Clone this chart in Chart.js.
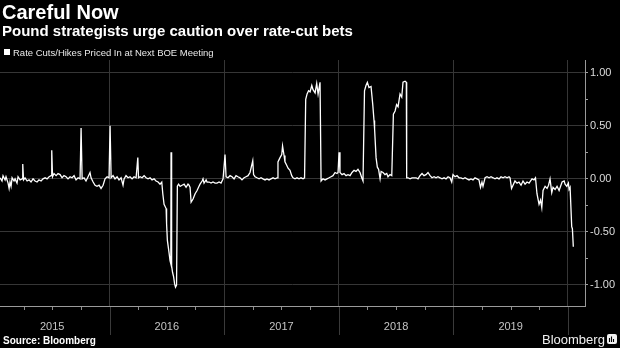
<!DOCTYPE html>
<html>
<head>
<meta charset="utf-8">
<script src="https://cdn.jsdelivr.net/npm/chart.js@4.4.1/dist/chart.umd.min.js"></script>
<style>
  html, body { margin: 0; padding: 0; background: #000; }
  #wrap { position: relative; width: 620px; height: 348px; overflow: hidden; background: #000;
          font-family: 'Liberation Sans', Arial, sans-serif; color: #fff; }
  #chart { position: absolute; left: 0; top: 0; }
  .t { position: absolute; white-space: nowrap; line-height: 1; }
  #title { left: 2px; top: 2px; font-size: 20px; font-weight: bold; }
  #sub { left: 2px; top: 23px; font-size: 15px; font-weight: bold; }
  #key { position: absolute; left: 4px; top: 49px; width: 6px; height: 6px; background: #fff; }
  #legend { left: 13px; top: 48px; font-size: 9.5px; color: #e8e8e8; }
  #source { left: 3px; top: 336px; font-size: 10px; font-weight: bold; }
  #brand { left: 542px; top: 333px; font-size: 13px; color: #f0f0f0; }
  #mark { position: absolute; left: 607px; top: 334px; width: 10px; height: 10px; }
</style>
</head>
<body>
<div id="wrap">
  <canvas id="chart" width="620" height="348"></canvas>
  <div class="t" id="title">Careful Now</div>
  <div class="t" id="sub">Pound strategists urge caution over rate-cut bets</div>
  <div id="key"></div>
  <div class="t" id="legend">Rate Cuts/Hikes Priced In at Next BOE Meeting</div>
  <div class="t" id="source">Source: Bloomberg</div>
  <div class="t" id="brand">Bloomberg</div>
  <svg id="mark" viewBox="0 0 10 10"><rect x="0" y="0" width="10" height="10" rx="2" fill="#f0f0f0"/><path d="M2.5 8V4M4.5 8V2.5M6.5 8V5" stroke="#000" stroke-width="1.1"/></svg>
</div>
<script>
// Observation dates as decimal years
const dates = [
  2015.045, 2015.062, 2015.071, 2015.089, 2015.097, 2015.115, 2015.124, 2015.132, 2015.141, 2015.150,
  2015.167, 2015.176, 2015.193, 2015.202, 2015.220, 2015.237, 2015.243, 2015.250, 2015.263, 2015.281,
  2015.298, 2015.315, 2015.333, 2015.350, 2015.368, 2015.385, 2015.403, 2015.420, 2015.438, 2015.455,
  2015.473, 2015.490, 2015.496, 2015.503, 2015.516, 2015.534, 2015.551, 2015.569, 2015.586, 2015.603,
  2015.621, 2015.638, 2015.656, 2015.673, 2015.691, 2015.708, 2015.726, 2015.743, 2015.752, 2015.761,
  2015.778, 2015.795, 2015.813, 2015.830, 2015.839, 2015.857, 2015.874, 2015.891, 2015.909, 2015.926,
  2015.944, 2015.961, 2015.979, 2015.996, 2016.005, 2016.014, 2016.031, 2016.048, 2016.066, 2016.083,
  2016.101, 2016.118, 2016.127, 2016.144, 2016.162, 2016.179, 2016.197, 2016.214, 2016.232, 2016.247,
  2016.253, 2016.267, 2016.284, 2016.302, 2016.319, 2016.336, 2016.354, 2016.371, 2016.389, 2016.406,
  2016.424, 2016.441, 2016.456, 2016.465, 2016.476, 2016.494, 2016.498, 2016.505, 2016.520, 2016.528,
  2016.535, 2016.537, 2016.542, 2016.550, 2016.559, 2016.568, 2016.576, 2016.585, 2016.592, 2016.603,
  2016.616, 2016.633, 2016.651, 2016.668, 2016.685, 2016.694, 2016.703, 2016.712, 2016.729, 2016.747,
  2016.764, 2016.781, 2016.790, 2016.808, 2016.816, 2016.825, 2016.843, 2016.851, 2016.869, 2016.886,
  2016.903, 2016.921, 2016.938, 2016.956, 2016.973, 2016.982, 2016.991, 2017.008, 2017.017, 2017.034,
  2017.052, 2017.069, 2017.087, 2017.104, 2017.121, 2017.139, 2017.156, 2017.174, 2017.191, 2017.209,
  2017.226, 2017.250, 2017.257, 2017.270, 2017.287, 2017.305, 2017.322, 2017.339, 2017.357, 2017.374,
  2017.392, 2017.409, 2017.427, 2017.444, 2017.462, 2017.470, 2017.488, 2017.503, 2017.510, 2017.523,
  2017.531, 2017.545, 2017.558, 2017.575, 2017.590, 2017.601, 2017.619, 2017.636, 2017.654, 2017.671,
  2017.689, 2017.702, 2017.712, 2017.724, 2017.737, 2017.750, 2017.765, 2017.776, 2017.794, 2017.808,
  2017.820, 2017.837, 2017.846, 2017.863, 2017.881, 2017.898, 2017.916, 2017.933, 2017.950, 2017.968,
  2017.985, 2017.994, 2018.003, 2018.011, 2018.029, 2018.046, 2018.064, 2018.081, 2018.099, 2018.116,
  2018.134, 2018.151, 2018.168, 2018.186, 2018.201, 2018.212, 2018.225, 2018.238, 2018.250, 2018.264,
  2018.282, 2018.297, 2018.308, 2018.313, 2018.326, 2018.337, 2018.348, 2018.361, 2018.370, 2018.387,
  2018.404, 2018.419, 2018.430, 2018.448, 2018.463, 2018.477, 2018.492, 2018.505, 2018.518, 2018.535,
  2018.550, 2018.561, 2018.579, 2018.590, 2018.593, 2018.605, 2018.622, 2018.640, 2018.657, 2018.675,
  2018.692, 2018.709, 2018.727, 2018.744, 2018.762, 2018.779, 2018.797, 2018.814, 2018.832, 2018.849,
  2018.866, 2018.884, 2018.901, 2018.919, 2018.936, 2018.954, 2018.971, 2018.986, 2018.997, 2019.015,
  2019.032, 2019.050, 2019.067, 2019.085, 2019.102, 2019.119, 2019.137, 2019.154, 2019.172, 2019.189,
  2019.207, 2019.224, 2019.237, 2019.250, 2019.259, 2019.277, 2019.294, 2019.312, 2019.329, 2019.347,
  2019.364, 2019.381, 2019.399, 2019.416, 2019.434, 2019.451, 2019.469, 2019.486, 2019.495, 2019.508,
  2019.521, 2019.538, 2019.556, 2019.573, 2019.591, 2019.608, 2019.626, 2019.643, 2019.661, 2019.674,
  2019.687, 2019.704, 2019.717, 2019.730, 2019.748, 2019.761, 2019.772, 2019.783, 2019.801, 2019.818,
  2019.831, 2019.844, 2019.859, 2019.870, 2019.888, 2019.905, 2019.923, 2019.936, 2019.949, 2019.967,
  2019.975, 2019.990, 2020.004, 2020.010, 2020.019, 2020.033, 2020.039, 2020.047
];

// Rate cuts (-) / hikes (+) priced in at the next BOE meeting
const priced = [
  0.01, -0.02, 0.03, -0.01, 0.02, -0.04, -0.09, -0.03, -0.07, 0.01,
  -0.02, 0.00, -0.04, 0.02, -0.01, 0.00, 0.14, -0.01, 0.01, -0.02,
  -0.01, -0.03, 0.00, -0.02, -0.03, -0.01, -0.02, 0.00, 0.01, 0.00,
  0.02, 0.03, 0.27, 0.02, 0.05, 0.03, 0.05, 0.04, 0.01, 0.03,
  0.02, 0.00, 0.02, 0.01, 0.03, -0.01, 0.01, 0.00, 0.48, 0.00,
  0.01, -0.02, 0.02, 0.06, 0.01, -0.03, -0.06, -0.07, -0.06, -0.09,
  -0.06, 0.00, 0.02, 0.01, 0.50, 0.01, 0.03, 0.00, 0.02, -0.01,
  0.01, -0.06, 0.00, 0.03, 0.01, 0.02, 0.00, 0.02, 0.01, 0.20,
  0.01, 0.02, 0.01, 0.03, 0.01, 0.00, 0.01, -0.01, 0.00, -0.02,
  -0.03, -0.05, -0.03, -0.14, -0.24, -0.28, -0.42, -0.58, -0.70, -0.77,
  -0.80, 0.25, -0.82, -0.88, -0.92, -0.99, -1.02, -1.00, -0.07, -0.05,
  -0.07, -0.06, -0.05, -0.08, -0.05, -0.06, -0.08, -0.22, -0.19, -0.14,
  -0.11, -0.07, -0.05, -0.02, 0.00, -0.04, -0.01, -0.03, -0.03, -0.04,
  -0.03, -0.04, -0.04, -0.03, -0.04, -0.02, 0.00, 0.23, 0.02, 0.01,
  0.03, 0.02, 0.00, 0.03, 0.02, 0.01, -0.01, 0.01, 0.02, 0.03,
  0.06, 0.17, 0.04, 0.02, 0.01, 0.00, 0.01, 0.00, -0.01, 0.00,
  -0.01, 0.00, 0.01, 0.00, 0.01, 0.16, 0.20, 0.23, 0.31, 0.22,
  0.16, 0.13, 0.10, 0.08, 0.03, 0.01, 0.00, 0.01, 0.00, 0.01,
  0.00, 0.01, 0.75, 0.80, 0.83, 0.82, 0.88, 0.84, 0.81, 0.90,
  0.80, 0.91, -0.02, 0.00, -0.01, 0.00, 0.01, 0.02, 0.03, 0.06,
  0.05, 0.06, 0.25, 0.06, 0.04, 0.05, 0.03, 0.04, 0.03, 0.06,
  0.08, 0.07, 0.09, 0.06, 0.01, -0.02, 0.83, 0.88, 0.91, 0.86,
  0.87, 0.70, 0.55, 0.47, 0.20, 0.11, 0.09, 0.00, 0.07, 0.06,
  0.04, 0.05, 0.02, 0.04, 0.03, 0.61, 0.64, 0.70, 0.68, 0.80,
  0.77, 0.91, 0.92, 0.91, 0.01, 0.01, 0.00, 0.01, 0.01, 0.01,
  0.00, 0.03, 0.05, 0.03, 0.04, 0.06, 0.03, 0.01, 0.02, 0.01,
  0.02, 0.01, 0.00, 0.01, 0.00, 0.02, 0.01, -0.03, 0.04, 0.02,
  0.03, 0.01, 0.01, 0.00, 0.01, 0.00, -0.01, 0.00, -0.01, 0.01,
  0.00, -0.01, -0.08, -0.03, -0.07, 0.01, 0.02, 0.01, 0.02, 0.01,
  0.00, 0.01, 0.00, 0.02, 0.01, 0.02, 0.01, 0.02, 0.01, -0.09,
  -0.06, -0.02, -0.04, -0.03, -0.06, -0.02, -0.05, -0.03, -0.04, -0.02,
  0.00, -0.01, 0.01, -0.14, -0.24, -0.20, -0.27, -0.11, -0.07, -0.09,
  -0.06, 0.00, -0.13, -0.08, -0.10, -0.07, -0.11, -0.07, -0.03, -0.02,
  -0.05, -0.07, -0.04, -0.10, -0.08, -0.45, -0.47, -0.64
];

// Axis ticks and labels
const yearLabels = ['2015', '2016', '2017', '2018', '2019'];
const firstYear = 2015;
const quarterTicks = [
  2015.25, 2015.5, 2015.75, 2016, 2016.25, 2016.5, 2016.75, 2017, 2017.25, 2017.5, 2017.75,
  2018, 2018.25, 2018.5, 2018.75, 2019, 2019.25, 2019.5, 2019.75, 2020
];
const yTickValues = [-1, -0.75, -0.5, -0.25, 0, 0.25, 0.5, 0.75, 1];

// Visible range
const X_MIN = 2015.0445, X_MAX = 2020.149;
const Y_MIN = -1.198, Y_MAX = 1.12;

const points = dates.map((d, i) => ({ x: d, y: priced[i] }));

const FONT = "'Liberation Sans', Arial, sans-serif";
Chart.defaults.font.family = FONT;

// Year separators below the time axis and short quarter ticks
const axisMarks = {
  id: 'axisMarks',
  afterDraw(chart) {
    const { ctx, chartArea, scales } = chart;
    const x = scales.x;
    ctx.save();
    ctx.lineWidth = 1;
    x.ticks.forEach(t => {
      const px = Math.round(x.getPixelForValue(t.value)) + 0.5;
      const major = t.value % 1 === 0;
      ctx.strokeStyle = major ? '#3a3a3a' : '#8c8c8c';
      ctx.beginPath();
      ctx.moveTo(px, chartArea.bottom + 1);
      ctx.lineTo(px, chartArea.bottom + (major ? 29 : 4));
      ctx.stroke();
    });
    ctx.restore();
  }
};

new Chart(document.getElementById('chart'), {
  type: 'line',
  data: {
    datasets: [{
      label: 'Rate Cuts/Hikes Priced In at Next BOE Meeting',
      data: points,
      borderColor: '#ffffff',
      borderWidth: 1.3,
      pointRadius: 0,
      tension: 0,
      fill: false
    }]
  },
  options: {
    responsive: false,
    animation: false,
    devicePixelRatio: 1,
    layout: { padding: { top: 60, left: 0, right: 0, bottom: 0 } },
    plugins: { legend: { display: false }, tooltip: { enabled: false } },
    scales: {
      x: {
        type: 'linear',
        min: X_MIN,
        max: X_MAX,
        afterBuildTicks: s => { s.ticks = quarterTicks.map(v => ({ value: v })); },
        afterFit: s => { s.height = 42; },
        grid: {
          color: c => (c.tick && c.tick.value % 1 === 0) ? '#363636' : 'rgba(0,0,0,0)',
          drawTicks: false,
          lineWidth: 1
        },
        border: { display: true, color: '#9a9a9a', width: 1 },
        ticks: {
          autoSkip: false,
          maxRotation: 0,
          padding: 14,
          color: '#c4c4c4',
          font: { size: 11, family: FONT },
          callback: v => {
            const q = Math.round(v * 4);
            return q % 4 === 2 ? yearLabels[Math.floor(v) - firstYear] : '';
          }
        }
      },
      y: {
        position: 'right',
        min: Y_MIN,
        max: Y_MAX,
        afterBuildTicks: s => { s.ticks = yTickValues.map(v => ({ value: v })); },
        afterFit: s => { s.width = 35; },
        grid: {
          color: c => (c.tick && Math.round(c.tick.value * 4) % 2 === 0) ? '#363636' : 'rgba(0,0,0,0)',
          drawTicks: true,
          tickLength: 3,
          tickColor: '#a0a0a0',
          lineWidth: 1
        },
        border: { display: true, color: '#9a9a9a', width: 1 },
        ticks: {
          padding: 2,
          color: '#dcdcdc',
          font: { size: 11, family: FONT },
          callback: v => (Math.round(v * 4) % 2 === 0 ? v.toFixed(2) : '')
        }
      }
    }
  },
  plugins: [axisMarks]
});
</script>
</body>
</html>
